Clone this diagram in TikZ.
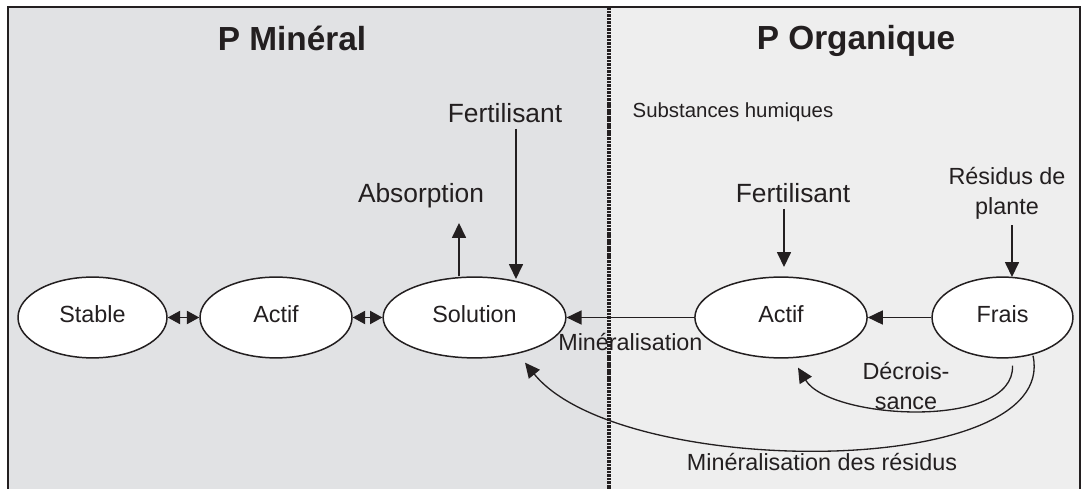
\documentclass[tikz,border=0pt]{standalone}
\usepackage{fontspec}
\setmainfont{Liberation Sans}
\usepackage{xcolor}
\usepackage{tikz}
\usetikzlibrary{positioning,arrows.meta,shapes.geometric,calc}
\definecolor{minclr}{RGB}{225,226,228}
\definecolor{orgclr}{RGB}{238,238,238}
\definecolor{inkclr}{RGB}{35,31,32}
\tikzset{
    pool/.style={ellipse,draw=inkclr,fill=white,line width=0.85pt,minimum height=46pt,text depth=4.5pt,inner sep=1pt},
    flow/.style={-{Triangle[length=8.5pt,width=8pt]},line width=0.75pt,draw=inkclr},
    swap/.style={{Triangle[length=7pt,width=7.5pt]}-{Triangle[length=7pt,width=7.5pt]},line width=0.75pt,draw=inkclr},
    headtxt/.style={font=\fontsize{19pt}{22pt}\selectfont\bfseries},
    bigtxt/.style={font=\fontsize{15pt}{18pt}\selectfont},
    smalltxt/.style={font=\fontsize{11.6pt}{14pt}\selectfont},
}

\begin{document}
\begin{tikzpicture}[
    x=0.02cm,y=-0.02cm,
    every node/.style={text=inkclr,font=\fontsize{13.3pt}{17pt}\selectfont},
    twoline/.style={align=center,font=\fontsize{13.3pt}{17pt}\selectfont},
]
\useasboundingbox (0,0) rectangle (1086,489);
\fill[minclr] (8,7) rectangle (609,489);
\fill[orgclr] (609,7) rectangle (1080,489);
\draw[inkclr,line width=0.9pt] (8,489) -- (8,7) -- (1080,7) -- (1080,489);
\draw[inkclr,line width=1.9pt,dash pattern=on 1.5pt off 0.5pt] (609,7) -- (609,489);

\node[headtxt] (headM) at (292,38) {P Minéral};
\node[headtxt] (headO) at (856,41) {P Organique};

\node[pool,minimum width=84.8pt] (stable) at (92.5,317.5) {Stable};
\node[pool,minimum width=86.5pt] (actifM) at (276,317.5) {Actif};
\node[pool,minimum width=104pt] (solution) at (474.5,317.5) {Solution};
\node[pool,minimum width=98pt] (actifO) at (781,317.5) {Actif};
\node[pool,minimum width=80.2pt] (frais) at (1002.5,317.5) {Frais};

\node[bigtxt] (fertM) at (505,113) {Fertilisant};
\node[bigtxt] (absorp) at (421,196) {Absorption};
\node[smalltxt] (subst) at (733,112) {Substances humiques};
\node[bigtxt] (fertO) at (793,193) {Fertilisant};
\node[twoline] (residus) at (1007,193) {Résidus de\\plante};
\node[twoline] (decr) at (906,386) {Décrois-\\sance};
\node (minRes) at (822,462) {Minéralisation des résidus};

\coordinate (absEnd) at (459,223);
\coordinate (fertMEnd) at (516,279);
\coordinate (fertOEnd) at (784,267);
\coordinate (residusEnd) at (1012,277);

\draw[swap] (stable) -- (actifM);
\draw[swap] (actifM) -- (solution);
\draw[flow] (absEnd |- solution.north) -- (absEnd);
\draw[flow] (fertM.south -| fertMEnd) -- (fertMEnd);
\draw[flow] (fertO.south -| fertOEnd) -- (fertOEnd);
\draw[flow] (residus.south -| residusEnd) -- (residusEnd);
\draw[flow] (actifO.west) -- node[midway,below=5pt] (minLab) {Minéralisation} (solution.east);
\draw[flow] (frais.west) -- (actifO.east);
\draw[flow] ($(frais.south)+(10,7)$) .. controls (1015,430) and (830,420) .. ($(actifO.south)+(17,9)$);
\draw[flow] ($(frais.south)+(30.5,-3)$) .. controls (1060,480) and (620,480) .. ($(solution.south)+(50.5,4)$);
\end{tikzpicture}
\end{document}
